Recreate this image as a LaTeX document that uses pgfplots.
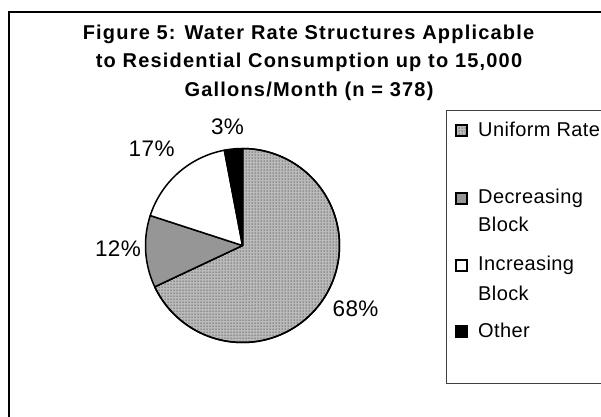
\documentclass[border=0pt]{standalone}
\usepackage{fontspec}
\setmainfont{Liberation Sans}[LetterSpace=2]
\newfontfamily\titlefont{Liberation Sans}[LetterSpace=6]
\usepackage{pgfplots}
\pgfplotsset{compat=1.18}
\usetikzlibrary{patterns}
\definecolor{decgray}{HTML}{969696}
\begin{document}
\begin{tikzpicture}
% pie centre and radius (in picture pixels)
\def\cx{242.5}\def\cy{245.5}\def\r{97}
% shares in percent
\def\vU{68}\def\vD{12}\def\vI{17}\def\vO{3}
\pgfmathsetmacro{\aA}{90}
\pgfmathsetmacro{\aB}{\aA-3.6*\vU}
\pgfmathsetmacro{\aC}{\aB-3.6*\vD}
\pgfmathsetmacro{\aD}{\aC-3.6*\vI}
\pgfmathsetmacro{\aE}{\aD-3.6*\vO}
\begin{axis}[at={(0,0)}, anchor=north west, scale only axis,
  width=601pt, height=416pt, xmin=0, xmax=601, ymin=0, ymax=416,
  y dir=reverse, hide axis]
% outer frame (cropped at right and bottom)
\draw[black, line width=1.8pt] (axis cs:8.7,11.7) rectangle (axis cs:660,460);
% title
\node[anchor=base, inner sep=0pt, font=\titlefont\bfseries\fontsize{20}{22}\selectfont] at (axis cs:308.5,39.3) {Figure 5: Water Rate Structures Applicable};
\node[anchor=base, inner sep=0pt, font=\titlefont\bfseries\fontsize{20}{22}\selectfont] at (axis cs:309,67.8) {to Residential Consumption up to 15,000};
\node[anchor=base, inner sep=0pt, font=\titlefont\bfseries\fontsize{20}{22}\selectfont] at (axis cs:309,96.3) {Gallons/Month (n = 378)};
% pie slices
\addplot[draw=black, line width=1.5pt, line join=round, fill=black!27,
  postaction={pattern=dots, pattern color=black},
  domain=\aB:\aA, samples=120, variable=\t]
  ({\cx+\r*cos(\t)},{\cy-\r*sin(\t)}) -- (axis cs:\cx,\cy) -- cycle;
\addplot[draw=black, line width=1.5pt, line join=round, fill=decgray,
  domain=\aC:\aB, samples=40, variable=\t]
  ({\cx+\r*cos(\t)},{\cy-\r*sin(\t)}) -- (axis cs:\cx,\cy) -- cycle;
\addplot[draw=black, line width=1.5pt, line join=round, fill=white,
  domain=\aD:\aC, samples=50, variable=\t]
  ({\cx+\r*cos(\t)},{\cy-\r*sin(\t)}) -- (axis cs:\cx,\cy) -- cycle;
\addplot[draw=black, line width=1.5pt, line join=round, fill=black,
  domain=\aE:\aD, samples=20, variable=\t]
  ({\cx+\r*cos(\t)},{\cy-\r*sin(\t)}) -- (axis cs:\cx,\cy) -- cycle;
% percent labels
\node[anchor=base, inner sep=0pt, font=\fontsize{22.5}{24}\selectfont] at (axis cs:227.5,134.3) {3\%};
\node[anchor=base, inner sep=0pt, font=\fontsize{22.5}{24}\selectfont] at (axis cs:151.7,156.7) {17\%};
\node[anchor=base, inner sep=0pt, font=\fontsize{22.5}{24}\selectfont] at (axis cs:118,256.7) {12\%};
\node[anchor=base, inner sep=0pt, font=\fontsize{22.5}{24}\selectfont] at (axis cs:355.5,316) {68\%};
% legend box
\draw[black!75, line width=0.9pt] (axis cs:446.7,110) rectangle (axis cs:700,383);
% legend swatches
\addplot[draw=black, line width=1.1pt, fill=black!27, postaction={pattern=dots, pattern color=black}]
  coordinates {(456,125) (467,125) (467,136) (456,136)} -- cycle;
\addplot[draw=black, line width=1.1pt, fill=decgray]
  coordinates {(456,193) (467,193) (467,204) (456,204)} -- cycle;
\addplot[draw=black, line width=1.1pt, fill=white]
  coordinates {(456,260) (467,260) (467,271) (456,271)} -- cycle;
\addplot[draw=black, line width=1.1pt, fill=black]
  coordinates {(456,326) (467,326) (467,337) (456,337)} -- cycle;
% legend texts
\node[anchor=base west, inner sep=0pt, font=\fontsize{20}{22}\selectfont] at (axis cs:478,136.7) {Uniform Rate};
\node[anchor=base west, inner sep=0pt, font=\fontsize{20}{22}\selectfont] at (axis cs:478,203.3) {Decreasing};
\node[anchor=base west, inner sep=0pt, font=\fontsize{20}{22}\selectfont] at (axis cs:478,231) {Block};
\node[anchor=base west, inner sep=0pt, font=\fontsize{20}{22}\selectfont] at (axis cs:478,270.7) {Increasing};
\node[anchor=base west, inner sep=0pt, font=\fontsize{20}{22}\selectfont] at (axis cs:478,300) {Block};
\node[anchor=base west, inner sep=0pt, font=\fontsize{20}{22}\selectfont] at (axis cs:478,337) {Other};
\end{axis}
\pgfresetboundingbox
\path[use as bounding box] (0,0) rectangle (601pt,-416pt);
\end{tikzpicture}
\end{document}
